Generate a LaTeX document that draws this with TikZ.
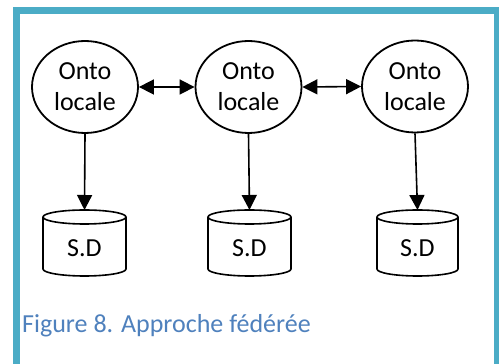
\documentclass[tikz,border=0pt]{standalone}
\usepackage{fontspec}
\setmainfont{Carlito}
\usetikzlibrary{shapes.geometric,arrows.meta}
\definecolor{frameteal}{HTML}{4BACC6}
\definecolor{capblue}{HTML}{4F81BD}
\tikzset{
  onto/.style={ellipse,draw,line width=1.8pt,minimum width=106pt,minimum height=92pt,inner sep=0pt,align=center,font=\fontsize{26}{31}\selectfont},
  sdtext/.style={inner sep=0pt,font=\fontsize{26}{30}\selectfont},
  cylline/.style={line width=1.6pt},
  link/.style={line width=1.6pt,-{Triangle[length=15pt,width=15pt]}},
  dlink/.style={line width=1.6pt,{Triangle[length=15pt,width=15pt]}-{Triangle[length=15pt,width=15pt]}},
  caption/.style={inner sep=0pt,anchor=base west,text=capblue,font=\fontsize{26}{30}\selectfont}
}
\newcommand\mycyl[4]{% name, cx, rx, label
  \draw[cylline] (#2-#3,147) -- (#2-#3,95)
    arc[start angle=180,end angle=360,x radius=#3pt,y radius=7pt]
    -- (#2+#3,147)
    arc[start angle=0,end angle=360,x radius=#3pt,y radius=7pt];
  \coordinate (#1top) at (#2,154);
  \node[sdtext,anchor=base] (#1) at (#2,107) {#4};
}
\begin{document}
\begin{tikzpicture}[x=1pt,y=1pt]
\useasboundingbox (0,0) rectangle (499,364);
\fill[white] (0,0) rectangle (499,364);
\draw[frameteal,line width=7pt] (16.5,-10) -- (16.5,353.5) -- (497.5,353.5) -- (497.5,-10);
\node[onto] (e1) at (85,277) {Onto\\locale};
\node[onto] (e2) at (248.5,277) {Onto\\locale};
\node[onto] (e3) at (415,277.5) {Onto\\locale};
\mycyl{c1}{84.5}{41.5}{S.D}
\mycyl{c2}{249.5}{41.5}{S.D}
\mycyl{c3}{417.5}{40.5}{S.D}
\draw[dlink] (e1.east) -- (e2.west);
\draw[dlink] (e2.east) -- (e3.west);
\draw[link] (e1.south) -- (c1top);
\draw[link] (e2.south) -- (c2top);
\draw[link] (e3.south) -- (c3top);
\node[caption] (cap) at (22,31) {Figure 8. Approche fédérée};
\end{tikzpicture}
\end{document}
